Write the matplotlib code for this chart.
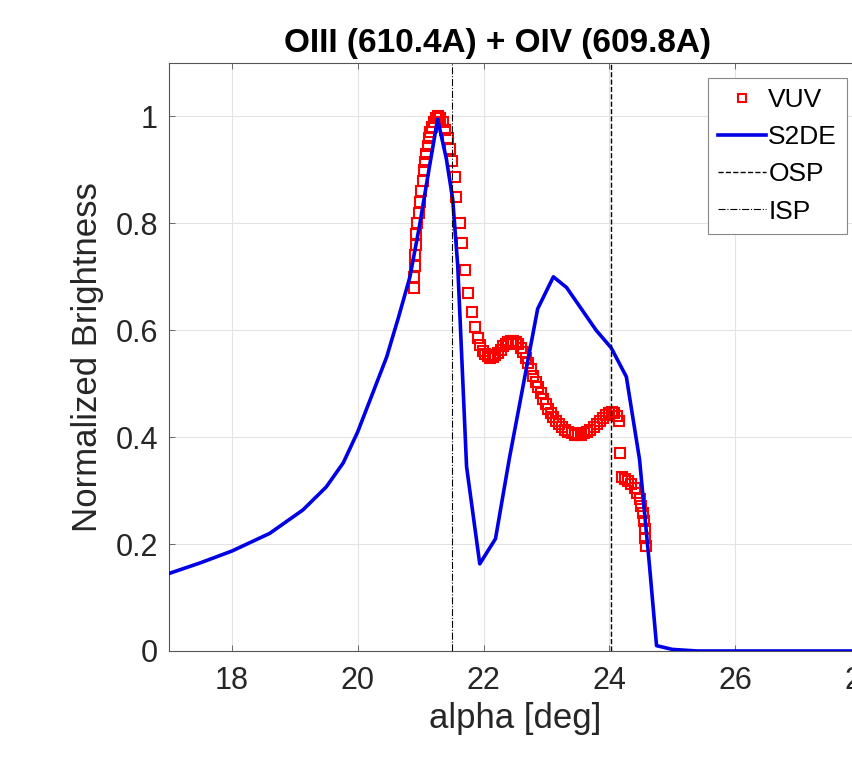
import matplotlib
matplotlib.use('Agg')
import matplotlib.pyplot as plt

plt.rcParams['font.family'] = ['Liberation Sans', 'DejaVu Sans']

# VUV measurement (red squares)
vuv_alpha = [20.90, 20.90, 20.91, 20.91, 20.92, 20.93, 20.95, 20.97, 20.99, 21.01,
             21.03, 21.05, 21.07, 21.09, 21.11, 21.13, 21.15, 21.18, 21.21, 21.24,
             21.27, 21.31, 21.35, 21.39, 21.43, 21.46, 21.50, 21.54, 21.57, 21.62,
             21.66, 21.71, 21.76, 21.81, 21.86, 21.91, 21.95, 21.99, 22.03, 22.07,
             22.11, 22.15, 22.19, 22.23, 22.27, 22.31, 22.35, 22.39, 22.43, 22.47,
             22.51, 22.55, 22.59, 22.63, 22.67, 22.71, 22.75, 22.79, 22.83, 22.87,
             22.91, 22.95, 22.99, 23.03, 23.07, 23.11, 23.15, 23.20, 23.25, 23.30,
             23.35, 23.40, 23.45, 23.50, 23.55, 23.60, 23.65, 23.70, 23.75, 23.80,
             23.85, 23.90, 23.95, 24.00, 24.04, 24.08, 24.12, 24.15, 24.17, 24.20,
             24.25, 24.30, 24.35, 24.40, 24.44, 24.48, 24.51, 24.53, 24.55, 24.56,
             24.57, 24.575]
vuv_val = [0.68, 0.70, 0.72, 0.74, 0.76, 0.78, 0.80, 0.82, 0.84, 0.86,
           0.88, 0.90, 0.915, 0.93, 0.945, 0.96, 0.97, 0.98, 0.99, 0.997,
           1.00, 0.998, 0.99, 0.975, 0.96, 0.94, 0.916, 0.886, 0.85, 0.80,
           0.764, 0.713, 0.67, 0.635, 0.607, 0.586, 0.572, 0.562, 0.555, 0.551,
           0.549, 0.55, 0.553, 0.558, 0.564, 0.570, 0.575, 0.578, 0.58, 0.58,
           0.578, 0.574, 0.567, 0.559, 0.549, 0.538, 0.527, 0.515, 0.504, 0.493,
           0.482, 0.472, 0.462, 0.453, 0.445, 0.438, 0.431, 0.425, 0.419, 0.414,
           0.41, 0.407, 0.405, 0.404, 0.405, 0.407, 0.41, 0.414, 0.419, 0.424,
           0.43, 0.436, 0.441, 0.445, 0.447, 0.446, 0.44, 0.43, 0.37, 0.326,
           0.322, 0.318, 0.312, 0.305, 0.296, 0.285, 0.272, 0.258, 0.243, 0.228,
           0.212, 0.197]

# S2DE synthetic brightness (blue line)
s2de_alpha = [17.0, 17.5, 18.0, 18.6, 19.13, 19.5, 19.77, 20.0, 20.24, 20.46,
              20.65, 20.83, 20.98, 21.14, 21.27, 21.41, 21.51, 21.59, 21.73, 21.94,
              22.19, 22.41, 22.86, 23.11, 23.32, 23.79, 24.03, 24.27, 24.48, 24.63,
              24.75, 25.0, 25.4, 26.0, 27.0, 28.0]
s2de_val = [0.145, 0.165, 0.187, 0.22, 0.264, 0.307, 0.352, 0.41, 0.483, 0.55,
            0.625, 0.70, 0.794, 0.906, 0.995, 0.92, 0.845, 0.72, 0.345, 0.163,
            0.21, 0.36, 0.64, 0.70, 0.68, 0.60, 0.567, 0.513, 0.358, 0.17,
            0.01, 0.003, 0.0, 0.0, 0.0, 0.0]

osp_alpha = 24.03
isp_alpha = 21.5

fig = plt.figure(figsize=(8.52, 7.58), dpi=100)
ax = fig.add_axes([169 / 852, 107 / 758, 692 / 852, 588 / 758])

ax.plot(vuv_alpha, vuv_val, ls='none', marker='s', ms=7, mfc='none',
        mec='red', mew=1.5, label='VUV', zorder=2)
ax.plot(s2de_alpha, s2de_val, color='#0000e6', lw=2.6, label='S2DE', zorder=3)
ax.axvline(osp_alpha, color='k', ls='--', lw=1.0, label='OSP', zorder=4)
ax.axvline(isp_alpha, color='k', ls='-.', lw=0.8, label='ISP', zorder=4)

ax.set_xlim(17, 28)
ax.set_ylim(0, 1.1)
ax.set_xticks([18, 20, 22, 24, 26, 28])
ax.set_yticks([0, 0.2, 0.4, 0.6, 0.8, 1.0])
ax.set_yticklabels(['0', '0.2', '0.4', '0.6', '0.8', '1'])
ax.grid(True, color='#e3e3e3', lw=0.8)
ax.set_axisbelow(True)

ax.tick_params(direction='in', length=4.5, width=0.6, top=True, right=True,
               labelsize=22, colors='#555555', labelcolor='#262626')
ax.tick_params(axis='x', pad=11)
ax.tick_params(axis='y', pad=8)
for sp in ax.spines.values():
    sp.set_color('#555555')
    sp.set_linewidth(0.8)

ax.set_xlabel('alpha [deg]', fontsize=25, color='#262626', labelpad=4)
ax.set_ylabel('Normalized Brightness', fontsize=25, color='#262626', labelpad=8)
ax.set_title('OIII (610.4A) + OIV (609.8A)', fontsize=24, fontweight='bold',
             x=0.474, pad=8)

leg = ax.legend(loc='upper right', bbox_to_anchor=(0.98, 0.9745), borderaxespad=0,
                fontsize=19, fancybox=False, framealpha=1, edgecolor='#888888',
                handlelength=1.8, handletextpad=0.1, labelspacing=0.5,
                borderpad=0.38, markerscale=0.8)
leg.get_frame().set_linewidth(0.8)

fig.savefig('out.png', dpi=100)
